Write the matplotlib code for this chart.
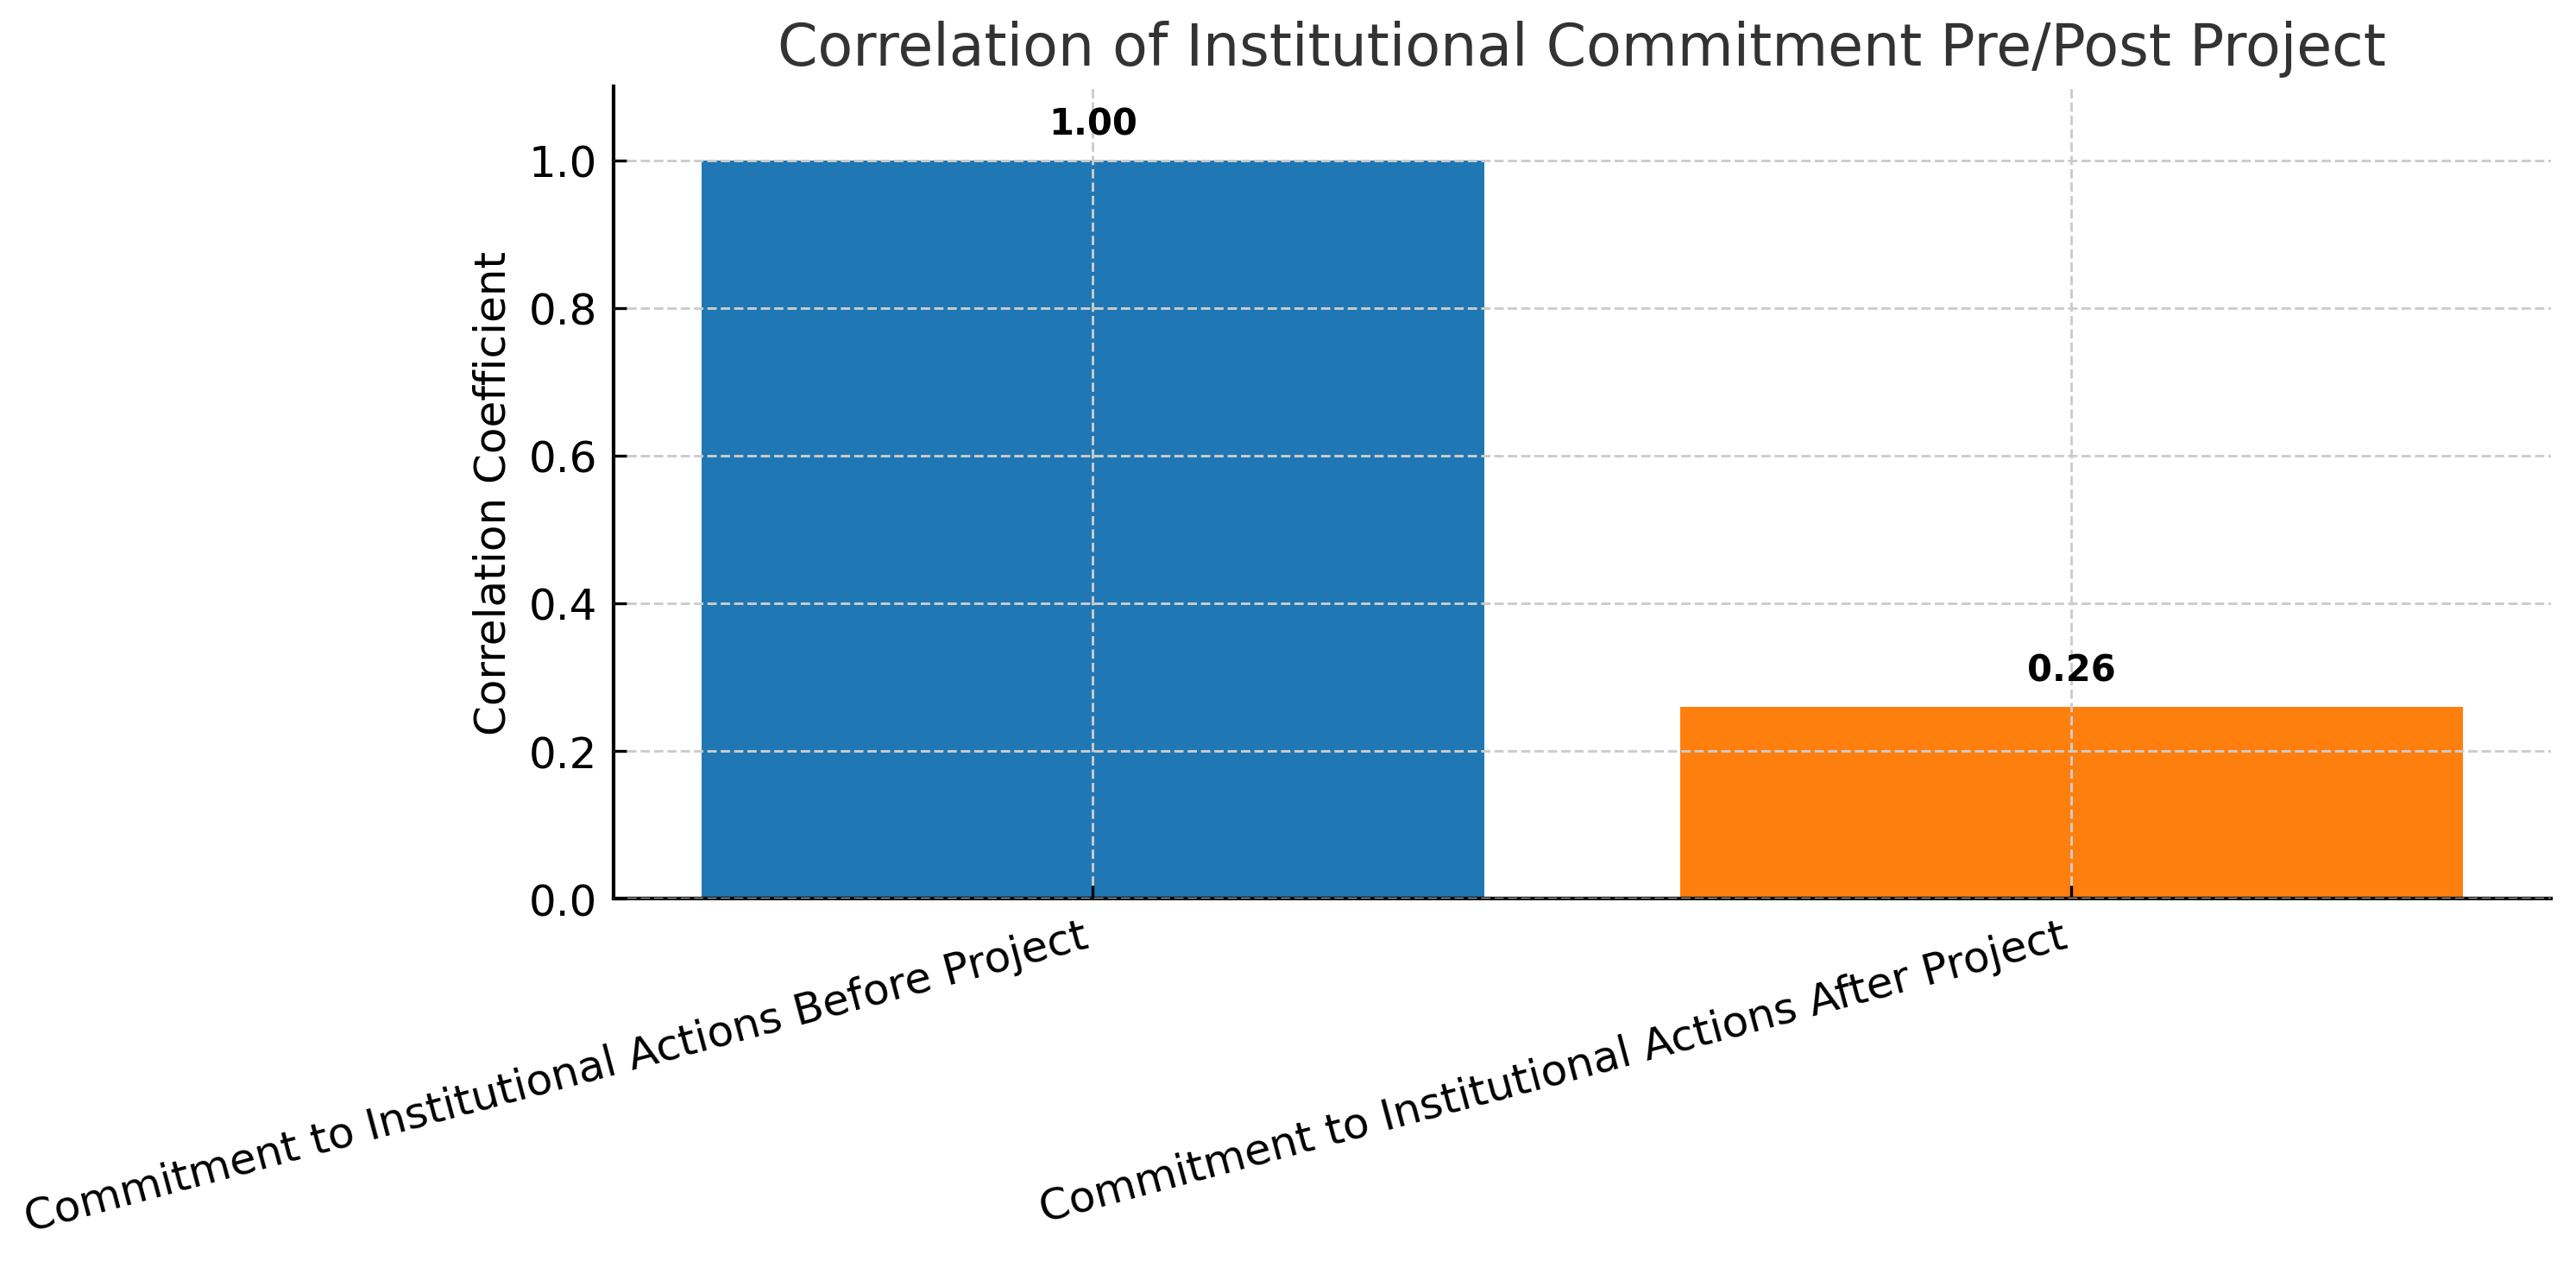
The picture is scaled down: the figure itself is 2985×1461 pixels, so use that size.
import matplotlib
matplotlib.use("Agg")
import matplotlib.pyplot as plt

# ------------------------------
# Data
# ------------------------------
CATEGORIES = [
    "Commitment to Institutional Actions Before Project",
    "Commitment to Institutional Actions After Project",
]
CORRELATIONS = [1.00, 0.26]
BAR_COLORS = ["#1f77b4", "#ff7f0e"]


# ------------------------------
# Chart
# ------------------------------
def plot():
    fig, ax = plt.subplots(figsize=(9.953, 4.873), dpi=300)
    fig.subplots_adjust(left=0.238, right=0.990, top=0.931, bottom=0.287)

    x = range(len(CATEGORIES))
    bars = ax.bar(x, CORRELATIONS, color=BAR_COLORS, width=0.8)

    # value labels above bars
    for bar, val in zip(bars, CORRELATIONS):
        ax.annotate(
            f"{val:.2f}",
            (bar.get_x() + bar.get_width() / 2, val),
            xytext=(0, 5),
            textcoords="offset points",
            ha="center",
            va="bottom",
            fontsize=10,
            fontweight="bold",
        )

    ax.set_xticks(list(x))
    ax.set_xticklabels(CATEGORIES, rotation=15, ha="right", fontsize=12)
    ax.set_ylim(0, 1.1)
    ax.tick_params(axis="both", direction="in", labelsize=12, pad=4.5)
    ax.set_ylabel("Correlation Coefficient", fontsize=12)
    ax.set_title(
        "Correlation of Institutional Commitment Pre/Post Project",
        fontsize=16,
        color="#333333",
    )

    ax.grid(True, linestyle="--", color="#cccccc", linewidth=0.7)
    ax.set_axisbelow(False)
    for side in ["top", "right"]:
        ax.spines[side].set_visible(False)
    for side in ["left", "bottom"]:
        ax.spines[side].set_linewidth(1.0)

    fig.savefig("out.png", dpi=300)
    plt.close(fig)


if __name__ == "__main__":
    plot()
